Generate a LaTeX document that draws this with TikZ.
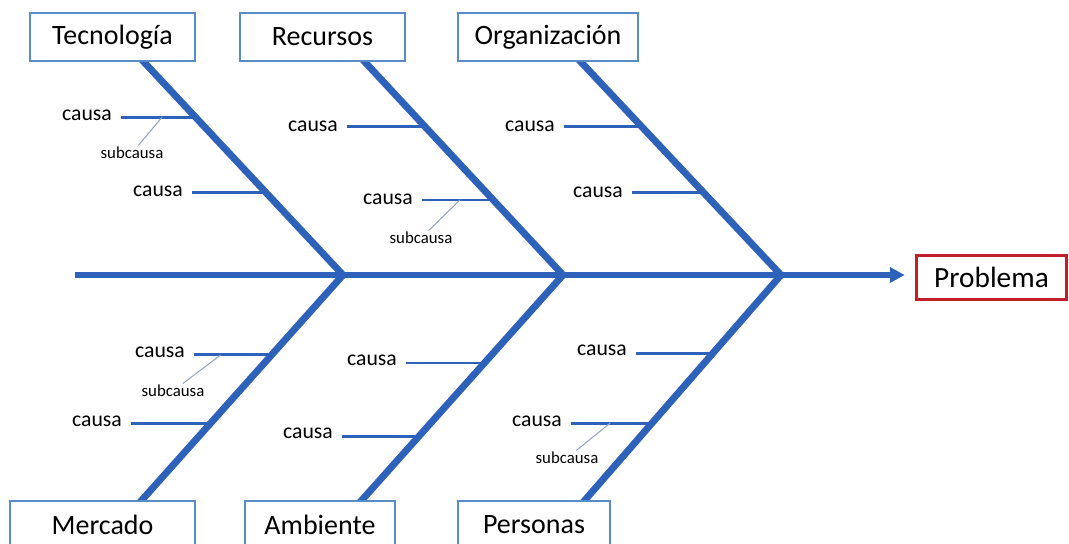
\documentclass[tikz,border=0pt]{standalone}
\usepackage{fontspec}
\setmainfont{Carlito}
\usetikzlibrary{arrows.meta}

\definecolor{FishBlue}{RGB}{46,98,186}
\definecolor{FishBoxBlue}{RGB}{88,140,200}
\definecolor{FishRed}{RGB}{192,30,40}
\definecolor{FishGrey}{RGB}{150,165,190}

\tikzset{
  catbox/.style={draw=FishBoxBlue, fill=white, line width=1.5pt, minimum height=36pt, inner sep=0pt, font=\fontsize{21}{25}\selectfont},
  bone/.style={draw=FishBlue, line width=5.2pt, line join=miter},
  spine/.style={draw=FishBlue, line width=3.8pt},
  causeline/.style={draw=FishBlue, line width=2.2pt},
  subline/.style={draw=FishGrey, line width=0.8pt},
  causetxt/.style={font=\fontsize{16.3}{19}\selectfont, inner xsep=7pt, inner ysep=1pt},
  subtxt/.style={font=\fontsize{12.6}{15}\selectfont, inner xsep=2pt, inner ysep=1pt},
}

\begin{document}
\begin{tikzpicture}[x=0.75pt, y=-0.75pt]
\useasboundingbox (0,0) rectangle (1069,543);
\clip (0,0) rectangle (1069,543);

% spine and problem
\node[draw=FishRed, line width=2.6pt, minimum width=112.5pt, minimum height=33pt, inner sep=0pt, font=\fontsize{22}{26}\selectfont] (prob) at (991.5,277.5) {Problema};
\coordinate (tail) at (75,275);
\coordinate (j1) at (343,275);
\coordinate (j2) at (563,275);
\coordinate (j3) at (781,275);
\draw[spine, -{Triangle[length=11pt, width=11pt]}, shorten >=7.5pt] (tail) -- (tail -| prob.west);

% bone feet, hidden under the boxes
\coordinate (tecfoot) at (137.4,55);
\coordinate (recfoot) at (358.4,55);
\coordinate (orgfoot) at (574.4,55);
\coordinate (merfoot) at (136.6,506);
\coordinate (ambfoot) at (356.6,506);
\coordinate (perfoot) at (579.8,506);

\draw[bone] (tecfoot) -- (j1) coordinate[pos=0.282] (tb1) coordinate[pos=0.627] (tb2)
  -- (merfoot) coordinate[pos=0.346] (mb1) coordinate[pos=0.641] (mb2);
\draw[bone] (recfoot) -- (j2) coordinate[pos=0.327] (rb1) coordinate[pos=0.659] (rb2)
  -- (ambfoot) coordinate[pos=0.381] (ab1) coordinate[pos=0.701] (ab2);
\draw[bone] (orgfoot) -- (j3) coordinate[pos=0.327] (ob1) coordinate[pos=0.627] (ob2)
  -- (perfoot) coordinate[pos=0.338] (pb1) coordinate[pos=0.641] (pb2);

% categories
\node[catbox, minimum width=123.75pt] (tec) at (112.5,37) {Tecnología};
\node[catbox, minimum width=123.75pt] (rec) at (322.5,37) {Recursos};
\node[catbox, minimum width=135pt] (org) at (548,37) {Organización};
\node[catbox, minimum width=138.75pt] (mer) at (102.5,525) {Mercado};
\node[catbox, minimum width=112.5pt] (amb) at (320,525) {Ambiente};
\node[catbox, minimum width=114pt] (per) at (534,525) {Personas};

% causes
\node[causetxt] (tc1) at (87,115) {causa};
\node[causetxt] (tc2) at (158,191) {causa};
\node[causetxt] (rc1) at (313,126) {causa};
\node[causetxt] (rc2) at (388,199) {causa};
\node[causetxt] (oc1) at (530,126) {causa};
\node[causetxt] (oc2) at (598,192) {causa};
\node[causetxt] (mc1) at (160,352) {causa};
\node[causetxt] (mc2) at (97,421) {causa};
\node[causetxt] (ac1) at (372,360) {causa};
\node[causetxt] (ac2) at (308,433) {causa};
\node[causetxt] (pc1) at (602,350) {causa};
\node[causetxt] (pc2) at (537,421) {causa};

\draw[causeline] (tc1.east |- tb1) -- (tb1) coordinate[pos=0.55] (ts1);
\draw[causeline] (tc2.east |- tb2) -- (tb2);
\draw[causeline] (rc1.east |- rb1) -- (rb1);
\draw[causeline] (rc2.east |- rb2) -- (rb2) coordinate[pos=0.53] (rs2);
\draw[causeline] (oc1.east |- ob1) -- (ob1);
\draw[causeline] (oc2.east |- ob2) -- (ob2);
\draw[causeline] (mc1.east |- mb1) -- (mb1) coordinate[pos=0.34] (ms1);
\draw[causeline] (mc2.east |- mb2) -- (mb2);
\draw[causeline] (ac1.east |- ab1) -- (ab1);
\draw[causeline] (ac2.east |- ab2) -- (ab2);
\draw[causeline] (pc1.east |- pb1) -- (pb1);
\draw[causeline] (pc2.east |- pb2) -- (pb2) coordinate[pos=0.48] (ps2);

% sub causes
\node[subtxt] (tsub) at (132,153) {subcausa};
\node[subtxt] (rsub) at (421,238) {subcausa};
\node[subtxt] (msub) at (173,391) {subcausa};
\node[subtxt] (psub) at (567,458) {subcausa};
\draw[subline] (ts1) -- (tsub);
\draw[subline] (rs2) -- (rsub);
\draw[subline] (ms1) -- (msub);
\draw[subline] (ps2) -- (psub);
\end{tikzpicture}
\end{document}
